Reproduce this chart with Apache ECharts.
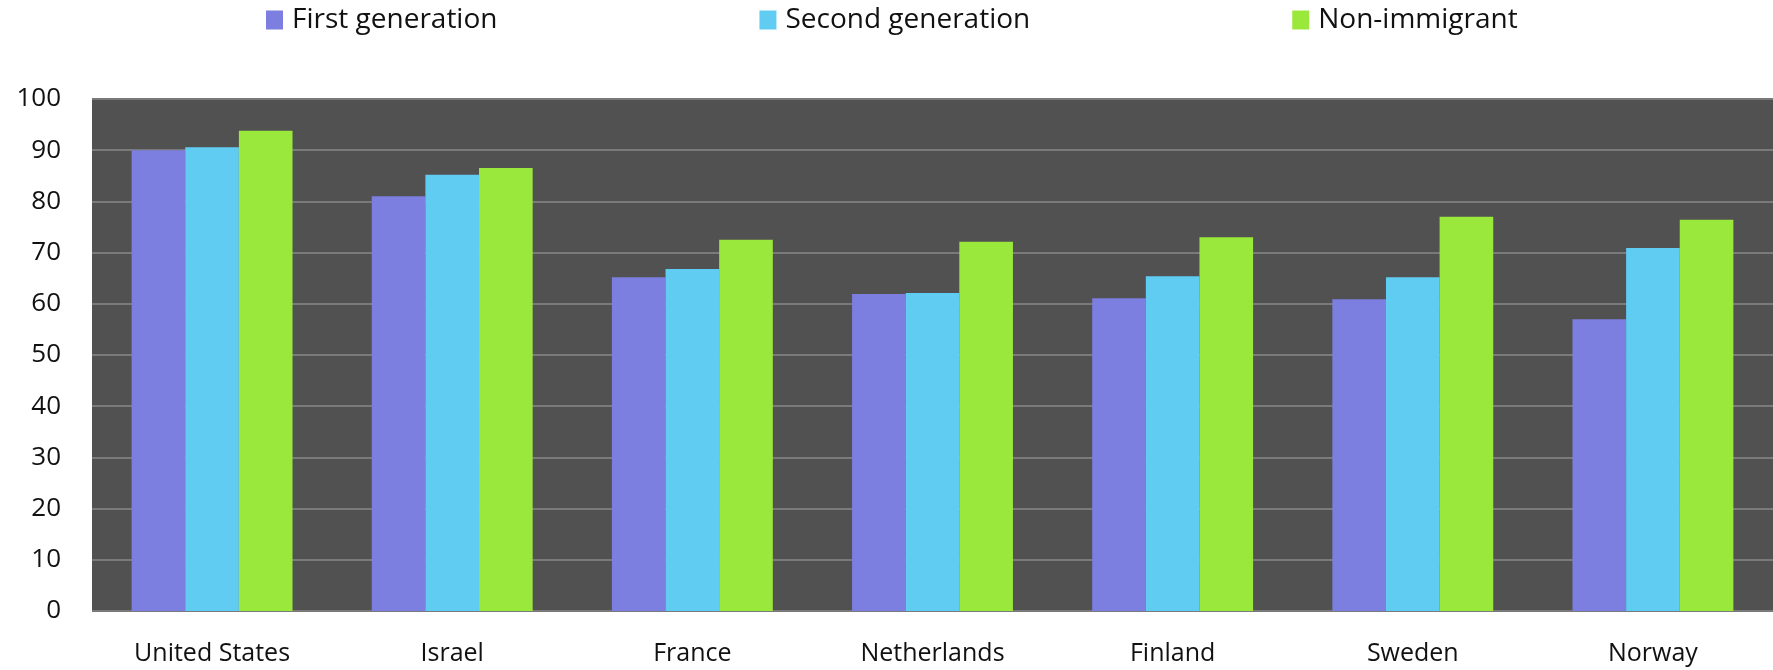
<!DOCTYPE html>
<html>
<head>
<meta charset="utf-8">
<script src="https://cdn.jsdelivr.net/npm/echarts@6/dist/echarts.min.js"></script>
<style>
html,body{margin:0;padding:0;background:#fff;}
#chart{width:1773px;height:670px;}
</style>
</head>
<body>
<div id="chart"></div>
<script>
const categories = ["United States","Israel","France","Netherlands","Finland","Sweden","Norway"];
const firstGeneration = [90.0, 81.0, 65.2, 61.9, 61.1, 60.9, 57.0];
const secondGeneration = [90.6, 85.2, 66.8, 62.1, 65.4, 65.2, 70.9];
const nonImmigrant = [93.8, 86.5, 72.5, 72.1, 73.0, 77.0, 76.4];
const yTicks = [0,10,20,30,40,50,60,70,80,90,100];

const FONT = "'Open Sans', 'Noto Sans', sans-serif";
const chart = echarts.init(document.getElementById('chart'));
const mk = (name, data, color) => ({
  name, type: 'bar', data, barGap: '0%', barCategoryGap: '33%',
  itemStyle: { color }, emphasis: { disabled: true }
});
chart.setOption({
  animation: false,
  legend: {
    top: 1, left: 261, itemGap: 262, itemWidth: 17, itemHeight: 19,
    textStyle: { fontFamily: FONT, fontSize: 28, color: '#111', padding: [0,0,0,4] },
    icon: 'rect'
  },
  grid: { left: 92, right: 0, top: 99, bottom: 59, show: true, backgroundColor: '#515151', borderWidth: 0 },
  xAxis: {
    type: 'category', data: categories,
    axisLine: { show: false }, axisTick: { show: false },
    axisLabel: { fontFamily: FONT, fontSize: 25, color: '#111', margin: 30 }
  },
  yAxis: {
    type: 'value', min: yTicks[0], max: yTicks[yTicks.length-1], interval: 10,
    axisLine: { show: false }, axisTick: { show: false },
    axisLabel: { fontFamily: FONT, fontSize: 26, color: '#111', margin: 31 },
    splitLine: { lineStyle: { color: '#7a7a7a', width: 2 } }
  },
  series: [
    mk('First generation', firstGeneration, '#7c7ee0'),
    mk('Second generation', secondGeneration, '#60ccf2'),
    mk('Non-immigrant', nonImmigrant, '#9be83c')
  ]
});
</script>
</body>
</html>
